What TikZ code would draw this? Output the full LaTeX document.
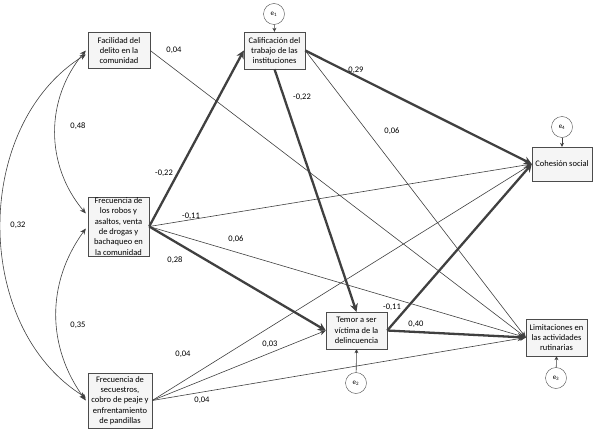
\documentclass[tikz,border=0pt]{standalone}
\usepackage{fontspec}
\setmainfont{Carlito}
\usetikzlibrary{arrows.meta}

\begin{document}
\begin{tikzpicture}[x=1pt, y=-1pt,
  font=\fontsize{8.5}{10.3}\selectfont,
  var/.style={draw=black!70, fill=black!4, align=center, inner sep=1pt},
  err/.style={circle, draw=black!70, fill=white, minimum size=21pt, inner sep=0pt, font=\fontsize{7}{8}\selectfont},
  thin path/.style={draw=black!75, line width=0.6pt, -{Stealth[length=6pt, width=5pt]}},
  thick path/.style={draw=black!75, line width=2.3pt, -{Stealth[length=8pt, width=8pt]}},
  cov/.style={draw=black!75, line width=0.6pt, {Stealth[length=6pt, width=5pt]}-{Stealth[length=6pt, width=5pt]}},
  erpath/.style={draw=black!75, line width=0.6pt, -{Stealth[length=4pt, width=4pt]}},
  coef/.style={inner sep=0pt}]

 \useasboundingbox (0,0) rectangle (596,433);

 %%%  nodes

 % observed variables
 \node [var, minimum width=62pt, minimum height=36pt] (fac) at (119,50.5) {Facilidad del\\delito en la\\comunidad};
 \node [var, minimum width=61pt, minimum height=37pt] (cal) at (274.5,50.5) {Calificación del\\trabajo de las\\instituciones};
 \node [var, minimum width=61pt, minimum height=59pt] (rob) at (118.5,226.5) {Frecuencia de\\los robos y\\asaltos, venta\\de drogas y\\bachaqueo en\\la comunidad};
 \node [var, minimum width=64pt, minimum height=55pt] (sec) at (120,400.5) {Frecuencia de\\secuestros,\\cobro de peaje y\\enfrentamiento\\de pandillas};
 \node [var, minimum width=61pt, minimum height=37pt] (tem) at (356.5,330.5) {Temor a ser\\víctima de la\\delincuencia};
 \node [var, minimum width=60pt, minimum height=34pt] (coh) at (562,164) {Cohesión social};
 \node [var, minimum width=61pt, minimum height=37pt] (lim) at (556.5,337.5) {Limitaciones en\\las actividades\\rutinarias};

 % error terms
 \node [err] (e1) at (274,14) {e\textsubscript{1}};
 \node [err] (e2) at (356,383) {e\textsubscript{2}};
 \node [err] (e3) at (556,378) {e\textsubscript{3}};
 \node [err] (e4) at (562,127) {e\textsubscript{4}};

 %%%  paths

 % thin paths
 \draw [thin path] (fac.east) to (lim.west);
 \draw [thin path] (cal.east) to (lim.west);
 \draw [thin path] (rob.east) to (coh.west);
 \draw [thin path] (rob.east) to (lim.west);
 \draw [thin path] (sec.east) to (coh.west);
 \draw [thin path] (sec.east) to (tem.west);
 \draw [thin path] (sec.east) to (lim.west);

 % thick paths
 \draw [thick path] (rob.east) to (cal.west);
 \draw [thick path] (rob.east) to (tem.west);
 \draw [thick path] (cal.south) to (tem.north);
 \draw [thick path] (cal.east) to (coh.west);
 \draw [thick path] (tem.east) to (coh.west);
 \draw [thick path] (tem.east) to (lim.west);

 % errors
 \draw [erpath] (e1) to (cal.north);
 \draw [erpath] (e4) to (coh.north);
 \draw [erpath] (e2) to (tem.south);
 \draw [erpath] (e3) to (lim.south);

 % covariances
 \draw [cov] ([xshift=-2pt]fac.west) to [bend right=40] ([xshift=-2pt, yshift=13pt]rob.west);
 \draw [cov] ([xshift=-2pt, yshift=-2pt]rob.west) to [bend right=36] ([xshift=-2pt]sec.west);
 \draw [cov] ([xshift=-2pt, yshift=-4pt]fac.west) to [bend right=58] ([xshift=-2pt, yshift=3pt]sec.west);

 %%%  coefficients
 \node [coef] (c1) at (174,50) {0,04};
 \node [coef] (c2) at (164,173) {-0,22};
 \node [coef] (c3) at (78,126) {0,48};
 \node [coef] (c4) at (18,225) {0,32};
 \node [coef] (c5) at (78,325) {0,35};
 \node [coef] (c6) at (191,216) {-0,11};
 \node [coef] (c7) at (236,239) {0,06};
 \node [coef] (c8) at (175,260) {0,28};
 \node [coef] (c9) at (183,354) {0,04};
 \node [coef] (c10) at (270,344) {0,03};
 \node [coef] (c11) at (202,400) {0,04};
 \node [coef] (c12) at (302,97) {-0,22};
 \node [coef] (c13) at (356,70) {0,29};
 \node [coef] (c14) at (392,131) {0,06};
 \node [coef] (c15) at (392,307) {-0,11};
 \node [coef] (c16) at (416,324) {0,40};

\end{tikzpicture}
\end{document}
